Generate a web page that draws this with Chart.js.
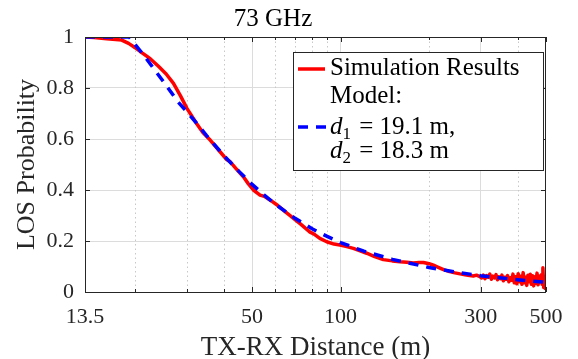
<!DOCTYPE html>
<html>
<head>
<meta charset="utf-8">
<script src="https://cdn.jsdelivr.net/npm/chart.js@4.4.0/dist/chart.umd.min.js"></script>
<style>
  html, body { margin: 0; padding: 0; background: #fff; }
  #wrap { width: 578px; height: 359px; }
</style>
</head>
<body>
<div id="wrap"><canvas id="chart" width="578" height="359"></canvas></div>
<script>
// simulation results
var simDist = [13.5, 14.5, 16, 18, 19, 20, 21, 22.5, 24, 25.5, 27, 28.5, 30, 32.4, 34, 36, 38.9, 40.9, 42, 44, 46.7, 48.5, 50.5, 53.2, 55, 57.5, 61, 65.7, 69, 72.8, 78.7, 81, 85, 89.7, 95, 99.5, 105, 110.5, 116, 122.7, 130, 139.8, 150, 159.3, 168, 176.9, 185, 191.4, 200, 207, 215, 224, 235, 245, 255, 265, 275, 283, 290, 298,
  302, 306, 310, 314, 318, 322, 326, 330, 334, 338, 342, 346, 350, 354, 358, 362, 366, 370, 374, 378, 382, 386, 390, 394, 398, 402, 406, 410, 414, 418, 422, 426, 430, 434, 438, 442, 446, 450, 454, 458, 462, 466, 470, 474, 478, 482, 485, 488, 491, 494, 497, 500];
var simProb = [1.0, 0.998, 0.993, 0.988, 0.975, 0.958, 0.94, 0.915, 0.885, 0.855, 0.818, 0.77, 0.72, 0.66, 0.625, 0.596, 0.55, 0.52, 0.512, 0.485, 0.452, 0.425, 0.40, 0.38, 0.375, 0.361, 0.34, 0.309, 0.29, 0.268, 0.235, 0.228, 0.21, 0.197, 0.188, 0.184, 0.178, 0.171, 0.162, 0.152, 0.14, 0.127, 0.122, 0.119, 0.117, 0.114, 0.116, 0.116, 0.111, 0.105, 0.097, 0.088, 0.08, 0.075, 0.071, 0.068, 0.065, 0.063, 0.066, 0.06,
  0.055, 0.066, 0.052, 0.064, 0.058, 0.07, 0.05, 0.062, 0.055, 0.068, 0.048, 0.06, 0.052, 0.066, 0.044, 0.058, 0.05, 0.064, 0.04, 0.056, 0.046, 0.07, 0.036, 0.06, 0.032, 0.072, 0.04, 0.062, 0.03, 0.076, 0.036, 0.058, 0.026, 0.066, 0.04, 0.07, 0.03, 0.064, 0.024, 0.06, 0.034, 0.074, 0.028, 0.062, 0.04, 0.068, 0.03, 0.095, 0.018, 0.062, 0.014, 0.035];

// model curve, d1 = 19.1 m, d2 = 18.3 m
var modelDist = [13.5, 19.1, 20, 21, 22, 23.5, 25, 28, 30, 33, 35, 40, 45, 50, 55, 60, 70, 80, 90, 100, 120, 150, 200, 250, 300, 400, 500];
var modelProb = [1.0, 1.0, 0.97, 0.94, 0.91, 0.865, 0.824, 0.745, 0.707, 0.65, 0.613, 0.536, 0.474, 0.422, 0.38, 0.344, 0.289, 0.248, 0.218, 0.194, 0.16, 0.128, 0.096, 0.077, 0.064, 0.048, 0.038];

var xTicks = [13.5, 50, 100, 300, 500];
var xMinor = [20, 30, 40, 60, 70, 80, 90, 200, 400];
var yTicks = [0, 0.2, 0.4, 0.6, 0.8, 1];

var FONT = '"Liberation Serif", "Times New Roman", serif';
var AX = '#262626';

function pts(xs, ys) {
  var out = [];
  for (var i = 0; i < xs.length; i++) out.push({x: xs[i], y: ys[i]});
  return out;
}

var extras = {
  id: 'extras',
  beforeDatasetsDraw: function(chart) {
    var c = chart.ctx, a = chart.chartArea, sx = chart.scales.x;
    c.save();
    c.strokeStyle = '#c8c8c8';
    c.lineWidth = 1;
    c.setLineDash([1.5, 3]);
    xMinor.forEach(function(v) {
      var px = Math.round(sx.getPixelForValue(v)) + 0.5;
      c.beginPath(); c.moveTo(px, a.top); c.lineTo(px, a.bottom); c.stroke();
    });
    c.restore();
  },
  afterDraw: function(chart) {
    var c = chart.ctx, a = chart.chartArea, sx = chart.scales.x, sy = chart.scales.y;
    c.save();
    c.strokeStyle = AX;
    c.lineWidth = 1;
    c.strokeRect(Math.round(a.left) + 0.5, Math.round(a.top) + 0.5, Math.round(a.right - a.left) - 1, Math.round(a.bottom - a.top));
    // inward tick marks
    c.beginPath();
    xTicks.concat(xMinor).forEach(function(v) {
      var len = xTicks.indexOf(v) >= 0 ? 5 : 3;
      var px = Math.round(sx.getPixelForValue(v)) + 0.5;
      c.moveTo(px, a.bottom); c.lineTo(px, a.bottom - len);
      c.moveTo(px, a.top); c.lineTo(px, a.top + len);
    });
    yTicks.forEach(function(v) {
      var py = Math.round(sy.getPixelForValue(v)) + 0.5;
      c.moveTo(a.left, py); c.lineTo(a.left + 5, py);
      c.moveTo(a.right, py); c.lineTo(a.right - 5, py);
    });
    c.stroke();

    // legend
    var lx = 293, ly = 52, lw = 251, lh = 119;
    c.fillStyle = '#fff';
    c.fillRect(lx, ly, lw, lh);
    c.strokeStyle = AX;
    c.strokeRect(lx + 0.5, ly + 0.5, lw - 1, lh - 1);

    c.lineWidth = 3.5;
    c.strokeStyle = '#ff0000';
    c.beginPath(); c.moveTo(298, 69); c.lineTo(325, 69); c.stroke();
    c.strokeStyle = '#0000ff';
    c.setLineDash([10, 8]);
    c.beginPath(); c.moveTo(298, 127); c.lineTo(326, 127); c.stroke();
    c.setLineDash([]);

    c.fillStyle = '#000';
    c.textBaseline = 'alphabetic';
    c.textAlign = 'left';
    var tx = 330;
    c.font = '25px ' + FONT;
    c.fillText('Simulation Results', tx, 75);
    c.fillText('Model:', tx, 103);
    function dLine(sub, rest, base) {
      var x = tx;
      c.font = 'italic 25px ' + FONT;
      c.fillText('d', x, base);
      x += c.measureText('d').width;
      c.font = '17px ' + FONT;
      c.fillText(sub, x, base + 5);
      x += c.measureText(sub).width + 2;
      c.font = '25px ' + FONT;
      c.fillText(rest, x, base);
    }
    dLine('1', ' = 19.1 m,', 134);
    dLine('2', ' = 18.3 m', 158);
    c.restore();
  }
};

new Chart(document.getElementById('chart'), {
  type: 'line',
  data: {
    datasets: [
      {
        label: 'Model',
        data: pts(modelDist, modelProb),
        borderColor: '#0000ff',
        borderWidth: 3.5,
        borderDash: [10, 8],
        pointRadius: 0,
        tension: 0,
        order: 0
      },
      {
        label: 'Simulation Results',
        data: pts(simDist, simProb),
        borderColor: '#ff0000',
        borderWidth: 3.5,
        borderJoinStyle: 'round',
        pointRadius: 0,
        tension: 0,
        order: 1
      }
    ]
  },
  plugins: [extras],
  options: {
    responsive: false,
    animation: false,
    devicePixelRatio: 1,
    layout: { padding: { top: 0, right: 32, left: 0, bottom: 0 } },
    plugins: {
      legend: { display: false },
      tooltip: { enabled: false },
      title: {
        display: true,
        text: '73 GHz',
        color: '#000',
        font: { family: FONT, size: 25, weight: 'normal', lineHeight: 1.2 },
        padding: { top: 4, bottom: 3 }
      }
    },
    scales: {
      x: {
        type: 'logarithmic',
        min: 13.5,
        max: 500,
        afterBuildTicks: function(s) { s.ticks = xTicks.map(function(v) { return {value: v}; }); },
        afterFit: function(s) { s.height = 67; },
        ticks: {
          autoSkip: false,
          maxRotation: 0,
          padding: 12,
          color: AX,
          font: { family: FONT, size: 22 },
          callback: function(v) { return String(v); }
        },
        grid: {
          drawTicks: false,
          color: function(ctx) {
            var v = ctx.tick && ctx.tick.value;
            return (v === 13.5 || v === 500) ? 'rgba(0,0,0,0)' : '#dcdcdc';
          }
        },
        border: { display: false },
        title: {
          display: true,
          text: 'TX-RX Distance (m)',
          color: AX,
          font: { family: FONT, size: 27, lineHeight: 1.0 },
          padding: { top: 0, bottom: -2 }
        }
      },
      y: {
        min: 0,
        max: 1,
        afterBuildTicks: function(s) { s.ticks = yTicks.map(function(v) { return {value: v}; }); },
        afterFit: function(s) { s.width = 85; },
        ticks: {
          padding: 11,
          color: AX,
          font: { family: FONT, size: 22 },
          callback: function(v) { return String(v); }
        },
        grid: {
          drawTicks: false,
          color: function(ctx) {
            var v = ctx.tick && ctx.tick.value;
            return (v === 0 || v === 1) ? 'rgba(0,0,0,0)' : '#dcdcdc';
          }
        },
        border: { display: false },
        title: {
          display: true,
          text: 'LOS Probability',
          color: AX,
          font: { family: FONT, size: 26, lineHeight: 1.2 },
          padding: { top: 12, bottom: 0 }
        }
      }
    }
  }
});
</script>
</body>
</html>
